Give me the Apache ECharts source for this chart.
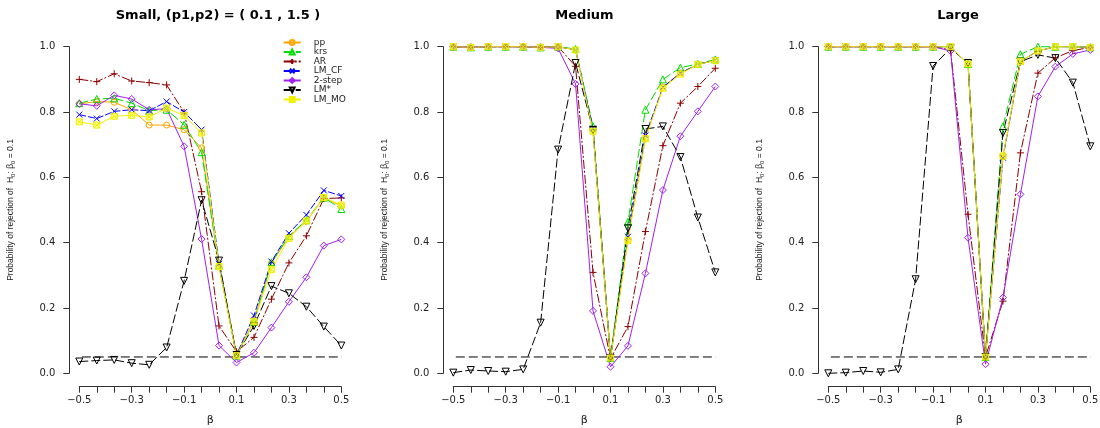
<!DOCTYPE html>
<html><head><meta charset="utf-8">
<script src="https://cdn.jsdelivr.net/npm/echarts@6/dist/echarts.min.js"></script>
<style>html,body{margin:0;padding:0;background:#fff}#c{width:1100px;height:428px}</style>
</head><body><div id="c"></div>
<script>
// ---------- data ----------
const beta = [-0.5, -0.4333, -0.3667, -0.3, -0.2333, -0.1667, -0.1, -0.0333, 0.0333, 0.1, 0.1667, 0.2333, 0.3, 0.3667, 0.4333, 0.5];
const xLabelValues = [-0.5, -0.3, -0.1, 0.1, 0.3, 0.5];
const yTickValues = [0, 0.2, 0.4, 0.6, 0.8, 1.0];
const seriesNames = ['pp', 'krs', 'AR', 'LM_CF', '2-step', 'LM*', 'LM_MO'];
const panelTitles = ['Small, (p1,p2) = ( 0.1 , 1.5 )', 'Medium', 'Large'];
const refLevel = 0.05;

const small_pp    = [0.825, 0.832, 0.830, 0.807, 0.760, 0.760, 0.746, 0.690, 0.327, 0.056, 0.161, 0.337, 0.418, 0.465, 0.538, 0.512];
const small_krs   = [0.827, 0.840, 0.842, 0.827, 0.804, 0.807, 0.761, 0.677, 0.330, 0.054, 0.158, 0.340, 0.420, 0.469, 0.538, 0.503];
const small_AR    = [0.900, 0.893, 0.917, 0.895, 0.890, 0.883, 0.799, 0.556, 0.145, 0.066, 0.110, 0.227, 0.338, 0.421, 0.535, 0.537];
const small_LMCF  = [0.792, 0.780, 0.802, 0.807, 0.804, 0.832, 0.800, 0.746, 0.335, 0.056, 0.177, 0.342, 0.429, 0.485, 0.560, 0.543];
const small_2step = [0.825, 0.819, 0.851, 0.840, 0.807, 0.810, 0.695, 0.411, 0.085, 0.033, 0.063, 0.140, 0.219, 0.294, 0.391, 0.410];
const small_LMst  = [0.036, 0.039, 0.041, 0.031, 0.026, 0.079, 0.283, 0.530, 0.345, 0.056, 0.145, 0.267, 0.245, 0.204, 0.143, 0.085];
const small_LMMO  = [0.770, 0.760, 0.787, 0.790, 0.785, 0.812, 0.789, 0.736, 0.327, 0.054, 0.158, 0.318, 0.413, 0.467, 0.538, 0.515];

const medium_pp    = [1.000, 0.998, 1.000, 1.000, 1.000, 0.998, 1.000, 0.990, 0.745, 0.047, 0.410, 0.720, 0.876, 0.920, 0.946, 0.958];
const medium_krs   = [1.000, 0.998, 1.000, 1.000, 1.000, 0.998, 1.000, 0.993, 0.756, 0.047, 0.464, 0.807, 0.900, 0.936, 0.947, 0.961];
const medium_AR    = [1.000, 0.998, 1.000, 1.000, 1.000, 0.998, 1.000, 0.940, 0.309, 0.045, 0.143, 0.434, 0.697, 0.827, 0.878, 0.934];
const medium_LMCF  = [1.000, 0.998, 1.000, 1.000, 1.000, 0.998, 1.000, 0.990, 0.750, 0.047, 0.418, 0.728, 0.876, 0.919, 0.946, 0.958];
const medium_2step = [1.000, 0.998, 1.000, 1.000, 1.000, 0.998, 0.995, 0.886, 0.191, 0.020, 0.084, 0.306, 0.561, 0.726, 0.802, 0.878];
const medium_LMst  = [0.002, 0.010, 0.007, 0.005, 0.012, 0.155, 0.685, 0.950, 0.745, 0.047, 0.444, 0.748, 0.756, 0.662, 0.477, 0.309];
const medium_LMMO  = [1.000, 0.998, 1.000, 1.000, 1.000, 0.998, 1.000, 0.990, 0.741, 0.047, 0.406, 0.718, 0.873, 0.916, 0.946, 0.957];

const large_pp    = [1.000, 1.000, 1.000, 1.000, 1.000, 1.000, 1.000, 1.000, 0.947, 0.050, 0.665, 0.955, 0.987, 1.000, 1.000, 0.998];
const large_krs   = [1.000, 1.000, 1.000, 1.000, 1.000, 1.000, 1.000, 1.000, 0.947, 0.050, 0.756, 0.977, 1.000, 1.000, 1.000, 0.998];
const large_AR    = [1.000, 1.000, 1.000, 1.000, 1.000, 1.000, 1.000, 0.990, 0.487, 0.050, 0.221, 0.675, 0.919, 0.966, 0.988, 0.998];
const large_LMCF  = [1.000, 1.000, 1.000, 1.000, 1.000, 1.000, 1.000, 1.000, 0.947, 0.050, 0.660, 0.955, 0.987, 1.000, 1.000, 0.998];
const large_2step = [1.000, 1.000, 1.000, 1.000, 1.000, 1.000, 1.000, 0.987, 0.415, 0.028, 0.232, 0.548, 0.848, 0.939, 0.978, 0.990];
const large_LMst  = [0.000, 0.002, 0.007, 0.003, 0.012, 0.288, 0.941, 0.995, 0.950, 0.050, 0.736, 0.954, 0.975, 0.965, 0.890, 0.695];
const large_LMMO  = [1.000, 1.000, 1.000, 1.000, 1.000, 1.000, 1.000, 1.000, 0.947, 0.050, 0.665, 0.955, 0.987, 1.000, 1.000, 0.998];

const panels = [
  [small_pp, small_krs, small_AR, small_LMCF, small_2step, small_LMst, small_LMMO],
  [medium_pp, medium_krs, medium_AR, medium_LMCF, medium_2step, medium_LMst, medium_LMMO],
  [large_pp, large_krs, large_AR, large_LMCF, large_2step, large_LMst, large_LMMO]
];

// ---------- styling ----------
const plusPath = 'path://M5,0 L5,10 M0,5 L10,5';
const xPath = 'path://M0,0 L10,10 M10,0 L0,10';
const boxXPath = 'path://M0,0 L10,0 L10,10 L0,10 Z M0,0 L10,10 M10,0 L0,10';
const styles = [
  {color: '#FFA500', fill: 'rgba(255,255,255,0)', symbol: 'circle', size: 6, rotate: 0, type: 'solid'},
  {color: '#00DD00', fill: 'rgba(255,255,255,0)', symbol: 'triangle', size: 7, rotate: 0, type: [9, 3]},
  {color: '#8B0000', fill: 'rgba(255,255,255,0)', symbol: plusPath, size: 7, rotate: 0, type: [9, 2, 2, 2]},
  {color: '#0000FF', fill: 'rgba(255,255,255,0)', symbol: xPath, size: 6, rotate: 0, type: [7, 2]},
  {color: '#A020F0', fill: 'rgba(255,255,255,0)', symbol: 'diamond', size: 7, rotate: 0, type: 'solid'},
  {color: '#000000', fill: 'rgba(255,255,255,0)', symbol: 'triangle', size: 7, rotate: 180, type: [9, 3]},
  {color: '#F0F000', fill: 'rgba(255,255,60,0.45)', symbol: boxXPath, size: 6, rotate: 0, type: 'solid'}
];

const gridLefts = [79.3, 453.3, 828.3];
const gridTop = 46.7, gridW = 262, gridH = 326.6;
const titleCenters = [218, 584.5, 958];
const pad = 0.04 * (beta[beta.length - 1] - beta[0]);
const FONT = 'DejaVu Sans';
const TITLE_FONT = 'bold 13px "DejaVu Sans"';

const measureCtx = document.createElement('canvas').getContext('2d');
function textWidth(t, font) { measureCtx.font = font; return measureCtx.measureText(t).width; }

const grids = [], xAxes = [], yAxes = [], series = [], titles = [];
panels.forEach((panel, p) => {
  grids.push({left: gridLefts[p], top: gridTop, width: gridW, height: gridH, containLabel: false, outerBoundsMode: 'none'});
  titles.push({text: panelTitles[p], left: titleCenters[p] - textWidth(panelTitles[p], TITLE_FONT) / 2, top: 9, padding: 0,
    textStyle: {fontFamily: FONT, fontSize: 13, fontWeight: 'bold', color: '#000'}});
  xAxes.push({
    type: 'value', gridIndex: p, min: beta[0], max: beta[beta.length - 1], offset: 13.4,
    name: 'β', nameLocation: 'middle', nameGap: 28,
    nameTextStyle: {fontFamily: FONT, fontSize: 11, color: '#222'},
    axisLine: {show: true, onZero: false, lineStyle: {color: '#333', width: 1}},
    axisTick: {show: true, length: 6, customValues: beta, lineStyle: {color: '#333'}},
    axisLabel: {customValues: xLabelValues, margin: 9, fontFamily: FONT, fontSize: 10, color: '#222',
      formatter: v => v.toFixed(1).replace('-', '\u2212')},
    splitLine: {show: false}
  });
  yAxes.push({
    type: 'value', gridIndex: p, min: 0, max: 1, interval: 0.2, offset: 10,
    name: '{a|Probability of rejection of  H}{s|0}{a|: β}{s|0}{a| = 0.1}',
    nameLocation: 'middle', nameRotate: 90, nameGap: 53,
    nameTextStyle: {rich: {
      a: {fontFamily: 'Liberation Sans', fontSize: 8.5, lineHeight: 11, color: '#222'},
      s: {fontFamily: 'Liberation Sans', fontSize: 6, lineHeight: 7, verticalAlign: 'bottom', color: '#222'}
    }},
    axisLine: {show: true, onZero: false, lineStyle: {color: '#333', width: 1}},
    axisTick: {show: true, length: 6, customValues: yTickValues, lineStyle: {color: '#333'}},
    axisLabel: {customValues: yTickValues, margin: 14, fontFamily: FONT, fontSize: 10, color: '#222',
      formatter: v => v.toFixed(1)},
    splitLine: {show: false}
  });
  // reference dashed line at the nominal level, spanning the full plot region
  series.push({
    type: 'line', name: 'ref', xAxisIndex: p, yAxisIndex: p, silent: true, clip: false,
    symbol: 'none', data: [[beta[0] - pad, refLevel], [beta[beta.length - 1] + pad, refLevel]],
    lineStyle: {color: '#000', width: 1, type: [9, 4]}, z: 1
  });
  panel.forEach((vals, s) => {
    const st = styles[s];
    series.push({
      type: 'line', name: seriesNames[s], xAxisIndex: p, yAxisIndex: p, clip: false,
      data: vals.map((v, i) => [beta[i], v]),
      symbol: st.symbol, symbolSize: st.size, symbolRotate: st.rotate, showAllSymbol: true,
      lineStyle: {color: st.color, width: 1, type: st.type},
      itemStyle: {color: st.fill, borderColor: st.color, borderWidth: 1},
      emphasis: {disabled: true}, z: 2
    });
  });
});

const chart = echarts.init(document.getElementById('c'), null, {renderer: 'canvas'});
chart.setOption({
  animation: false,
  backgroundColor: '#fff',
  title: titles,
  grid: grids,
  xAxis: xAxes,
  yAxis: yAxes,
  legend: {
    data: seriesNames, orient: 'vertical', left: 282.7, top: 38, padding: 0,
    itemWidth: 17, itemHeight: 6, itemGap: 0.5, selectedMode: false,
    textStyle: {fontFamily: FONT, fontSize: 9, lineHeight: 7.5, color: '#222', padding: [0, 0, 0, 8]}
  },
  series: series
});
</script></body></html>
